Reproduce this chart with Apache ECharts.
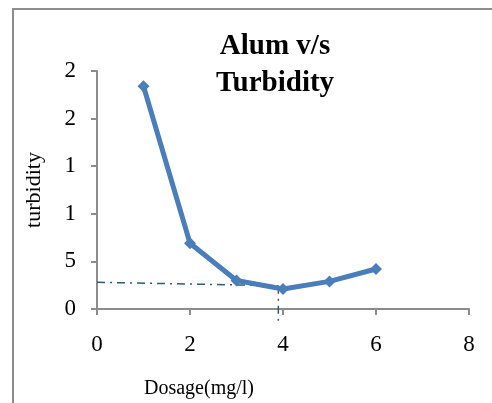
<!DOCTYPE html>
<html>
<head>
<meta charset="utf-8">
<script src="https://cdn.jsdelivr.net/npm/echarts@6/dist/echarts.min.js"></script>
<style>
html,body{margin:0;padding:0;background:#fff;}
#c{width:492px;height:403px;}
</style>
</head>
<body>
<div id="c"></div>
<script>
// Data
const dosage = [1, 2, 3, 4, 5, 6];
const turbidity = [23.4, 6.9, 3.0, 2.1, 2.9, 4.2];
const yTickLabels = ['0', '5', '1', '1', '2', '2'];
const xTickValues = [0, 2, 4, 6, 8];
// hand-drawn guide lines (dash-dot)
const guideH = [[0, 2.8], [3.9, 2.45]];
const guideV = [[3.9, 2.45], [3.9, -1.35]];

const serif = '"Liberation Serif","Times New Roman",serif';
const chart = echarts.init(document.getElementById('c'));
chart.setOption({
  animation: false,
  backgroundColor: '#fff',
  title: {
    text: 'Alum v/s\nTurbidity',
    left: 270,
    top: 23,
    textAlign: 'center',
    textStyle: {fontFamily: serif, fontWeight: 'bold', fontSize: 29, lineHeight: 37, color: '#000'}
  },
  graphic: [{
    type: 'polyline',
    shape: {points: [[13, 403], [13, 9], [492, 9]]},
    style: {stroke: '#8c8c8c', lineWidth: 2, fill: null}
  }],
  grid: {left: 97, right: 23, top: 71, bottom: 94, containLabel: false, outerBoundsMode: 'none'},
  xAxis: {
    type: 'value', min: 0, max: 8, interval: 2,
    name: 'Dosage(mg/l)', nameLocation: 'middle', nameGap: 70,
    nameTextStyle: {fontFamily: serif, fontSize: 20, color: '#000', padding: [0, 168, 0, 0]},
    axisLine: {show: true, onZero: false, lineStyle: {color: '#8c8c8c', width: 2}},
    axisTick: {show: true, length: 6, lineStyle: {color: '#8c8c8c', width: 2}},
    axisLabel: {fontFamily: serif, fontSize: 23, color: '#000', margin: 24,
      formatter: v => xTickValues.includes(v) ? String(v) : ''},
    splitLine: {show: false}
  },
  yAxis: {
    type: 'value', min: 0, max: 25, interval: 5,
    name: 'turbidity', nameLocation: 'middle', nameGap: 52, nameRotate: 90,
    nameTextStyle: {fontFamily: serif, fontSize: 22, color: '#000'},
    axisLine: {show: true, lineStyle: {color: '#8c8c8c', width: 2}},
    axisTick: {show: true, length: 6, lineStyle: {color: '#8c8c8c', width: 2}},
    axisLabel: {fontFamily: serif, fontSize: 23, color: '#000', margin: 21,
      formatter: v => yTickLabels[Math.round(v / 5)]},
    splitLine: {show: false}
  },
  series: [
    {
      type: 'line', data: guideH, clip: false, symbol: 'none', silent: true,
      lineStyle: {color: '#2a5e6c', width: 1.5, type: [8, 5, 2, 5]}, z: 1
    },
    {
      type: 'line', data: guideV, clip: false, symbol: 'none', silent: true,
      lineStyle: {color: '#2a5e6c', width: 1.5, type: [8, 5, 2, 5]}, z: 1
    },
    {
      type: 'line',
      data: dosage.map((d, i) => [d, turbidity[i]]),
      symbol: 'diamond', symbolSize: 12,
      lineStyle: {color: '#4a7ebb', width: 5},
      itemStyle: {color: '#4a7ebb'},
      z: 3
    }
  ]
});
</script>
</body>
</html>
